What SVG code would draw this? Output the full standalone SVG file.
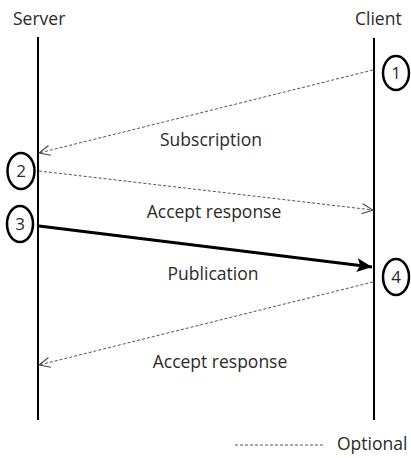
<svg xmlns="http://www.w3.org/2000/svg" width="411" height="458" viewBox="0 0 411 458">
  <style>
    text { font-family: "Open Sans", "DejaVu Sans", sans-serif; font-size: 17.5px; fill: #2a2a2a; }
    .num { font-size: 17px; text-anchor: middle; }
    .lbl { text-anchor: middle; }
    .life { stroke: #000; stroke-width: 2; fill: none; }
    .opt { stroke: #555; stroke-width: 1; stroke-dasharray: 3 2; fill: none; }
    .req { stroke: #000; stroke-width: 3.2; fill: none; }
    .ring { stroke: #000; stroke-width: 2.5; fill: #fff; }
  </style>
  <defs>
    <marker id="open" markerWidth="14" markerHeight="12" refX="12" refY="6" orient="auto" markerUnits="userSpaceOnUse">
      <path d="M1,1 L12,6 L1,11" fill="none" stroke="#444" stroke-width="1"/>
    </marker>
    <marker id="solid" markerWidth="16" markerHeight="14" refX="15" refY="7" orient="auto" markerUnits="userSpaceOnUse">
      <path d="M0,0 L15,7 L0,14 L3,7 Z" fill="#000"/>
    </marker>
  </defs>

  <!-- participants -->
  <g id="server">
    <text x="13" y="25">Server</text>
    <line class="life" x1="38" y1="37" x2="38" y2="420"/>
  </g>
  <g id="client">
    <text x="355" y="25">Client</text>
    <line class="life" x1="374" y1="38" x2="374" y2="420"/>
  </g>

  <!-- messages -->
  <g id="connectors">
    <line class="opt" x1="373" y1="70" x2="39" y2="153" marker-end="url(#open)"/>
    <line class="opt" x1="39" y1="171" x2="373" y2="210" marker-end="url(#open)"/>
    <line class="req" x1="39" y1="226" x2="372" y2="267" marker-end="url(#solid)"/>
    <line class="opt" x1="373" y1="282" x2="39" y2="365" marker-end="url(#open)"/>
  </g>

  <g id="labels">
    <text class="lbl" x="211" y="146">Subscription</text>
    <text class="lbl" x="214" y="218">Accept response</text>
    <text class="lbl" x="213" y="280">Publication</text>
    <text class="lbl" x="220" y="368">Accept response</text>
  </g>

  <!-- step markers -->
  <g id="step1">
    <ellipse class="ring" cx="396" cy="73" rx="13" ry="17"/>
    <text class="num" x="396" y="79">1</text>
  </g>
  <g id="step2">
    <ellipse class="ring" cx="21" cy="171" rx="13.5" ry="18"/>
    <text class="num" x="21" y="177">2</text>
  </g>
  <g id="step3">
    <ellipse class="ring" cx="20" cy="224" rx="13" ry="18"/>
    <text class="num" x="20" y="230">3</text>
  </g>
  <g id="step4">
    <ellipse class="ring" cx="396" cy="277" rx="13" ry="18"/>
    <text class="num" x="396" y="283">4</text>
  </g>

  <!-- legend -->
  <g id="legend">
    <line class="opt" x1="235" y1="445" x2="323" y2="445"/>
    <text x="337" y="450">Optional</text>
  </g>
</svg>
